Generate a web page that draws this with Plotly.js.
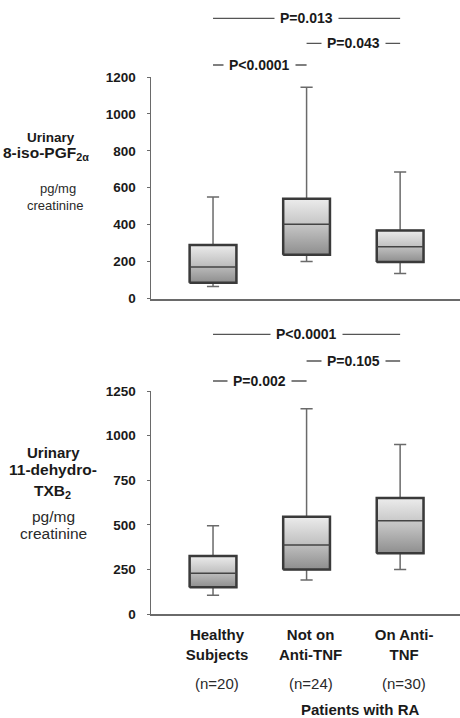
<!DOCTYPE html>
<html>
<head>
<meta charset="utf-8">
<script src="https://cdn.plot.ly/plotly-3.0.1.min.js"></script>
<style>
html,body{margin:0;padding:0;background:#fff;}
#chart{width:460px;height:718px;}
</style>
</head>
<body>
<div id="chart"></div>
<script>
// ---- data ----
const categories = ['Healthy<br>Subjects', 'Not on<br>Anti-TNF', 'On Anti-<br>TNF'];
const nLabels = ['(n=20)', '(n=24)', '(n=30)'];
const groupLabel = 'Patients with RA';

// Urinary 8-iso-PGF2α (pg/mg creatinine)
const isoLower = [65, 200, 135];
const isoQ1    = [86, 237, 198];
const isoMed   = [170, 402, 281];
const isoQ3    = [290, 541, 369];
const isoUpper = [550, 1145, 685];
const isoTicks = [0, 200, 400, 600, 800, 1000, 1200];

// Urinary 11-dehydro-TXB2 (pg/mg creatinine)
const txbLower = [105, 190, 250];
const txbQ1    = [150, 250, 340];
const txbMed   = [228, 387, 523];
const txbQ3    = [325, 545, 650];
const txbUpper = [495, 1150, 950];
const txbTicks = [0, 250, 500, 750, 1000, 1250];

// comparisons
const isoPText = ['P<0.0001', 'P=0.043', 'P=0.013'];
const isoPFrom = [0, 1, 0];
const isoPTo   = [1, 2, 2];
const txbPText = ['P=0.002', 'P=0.105', 'P<0.0001'];
const txbPFrom = [0, 1, 0];
const txbPTo   = [1, 2, 2];

// ---- styling ----
const FONT = 'Liberation Sans, Arial, sans-serif';
const BOX_W = 0.5;
const xs = categories.map((c, i) => i);

function fillTraces(q1, q3, xa, ya) {
  return xs.map(i => ({
    type: 'scatter', mode: 'lines', xaxis: xa, yaxis: ya,
    x: [i - BOX_W / 2, i + BOX_W / 2, i + BOX_W / 2, i - BOX_W / 2, i - BOX_W / 2],
    y: [q1[i], q1[i], q3[i], q3[i], q1[i]],
    fill: 'toself',
    fillgradient: {type: 'vertical', colorscale: [[0, '#8e8e8e'], [0.5, '#c2c2c2'], [1, '#ececec']]},
    line: {color: '#3a3a3a', width: 2.5},
    hoverinfo: 'skip', showlegend: false
  }));
}
function medianTraces(med, xa, ya) {
  return xs.map(i => ({
    type: 'scatter', mode: 'lines', xaxis: xa, yaxis: ya,
    x: [i - BOX_W / 2, i + BOX_W / 2], y: [med[i], med[i]],
    line: {color: '#444444', width: 1.5},
    hoverinfo: 'skip', showlegend: false
  }));
}
function boxTrace(lo, q1, med, q3, hi, xa, ya) {
  return {
    type: 'box', xaxis: xa, yaxis: ya,
    x: xs, lowerfence: lo, q1: q1, median: med, q3: q3, upperfence: hi,
    width: BOX_W, whiskerwidth: 0.26,
    fillcolor: 'rgba(0,0,0,0)',
    line: {color: '#6a6a6a', width: 1.5},
    boxpoints: false, showlegend: false, hoverinfo: 'skip'
  };
}

const data = [].concat(
  [boxTrace(isoLower, isoQ1, isoMed, isoQ3, isoUpper, 'x', 'y')],
  fillTraces(isoQ1, isoQ3, 'x', 'y'),
  medianTraces(isoMed, 'x', 'y'),
  [boxTrace(txbLower, txbQ1, txbMed, txbQ3, txbUpper, 'x2', 'y2')],
  fillTraces(txbQ1, txbQ3, 'x2', 'y2'),
  medianTraces(txbMed, 'x2', 'y2')
);

const H = 718, W = 460;
const py = p => 1 - p / H;   // pixel row -> paper y
const px = p => p / W;       // pixel col -> paper x

const xRange = [-0.663, 2.64];
const xDomain = [px(151), 1];

const axisY = (ticks, domain) => ({
  domain: domain, range: [0, ticks[ticks.length - 1]],
  tickvals: ticks, ticktext: ticks.map(String),
  showline: true, linecolor: '#6a6a6a', linewidth: 1.5,
  ticks: 'outside', ticklen: 3, tickcolor: '#6a6a6a', tickwidth: 1,
  showgrid: false, zeroline: false, fixedrange: true,
  ticklabelstandoff: 8,
  tickfont: {family: FONT, size: 13.5, color: '#1a1a1a', weight: 'bold'}
});

const layout = {
  width: W, height: H,
  margin: {l: 0, r: 0, t: 0, b: 0},
  paper_bgcolor: '#ffffff', plot_bgcolor: '#ffffff',
  showlegend: false,
  xaxis: {domain: xDomain, range: xRange, anchor: 'y', showline: true, linecolor: '#6a6a6a', linewidth: 2,
          showticklabels: false, ticks: '', showgrid: false, zeroline: false, fixedrange: true},
  yaxis: axisY(isoTicks, [py(298.5), py(77)]),
  xaxis2: {domain: xDomain, range: xRange, anchor: 'y2', showline: true, linecolor: '#6a6a6a', linewidth: 2,
           tickvals: xs, ticktext: categories, ticks: '', ticklabelstandoff: 6, ticklabelshift: 4,
           tickfont: {family: FONT, size: 15, color: '#1a1a1a', weight: 'bold'},
           showgrid: false, zeroline: false, fixedrange: true},
  yaxis2: axisY(txbTicks, [py(614), py(391)]),
  shapes: [],
  annotations: []
};

// comparison brackets
function addBrackets(texts, from, to, ys, xref) {
  texts.forEach((t, k) => {
    layout.shapes.push({type: 'line', xref: xref, yref: 'paper',
      x0: from[k], x1: to[k], y0: py(ys[k]), y1: py(ys[k]),
      line: {color: '#555', width: 1.3}});
    layout.annotations.push({xref: xref, yref: 'paper', x: (from[k] + to[k]) / 2, y: py(ys[k]),
      text: t, showarrow: false, xanchor: 'center', yanchor: 'middle',
      bgcolor: '#ffffff', borderpad: 5,
      font: {family: FONT, size: 14, color: '#1a1a1a', weight: 'bold'}});
  });
}
addBrackets(isoPText, isoPFrom, isoPTo, [65, 43.3, 18.3], 'x');
addBrackets(txbPText, txbPFrom, txbPTo, [381, 361, 334.3], 'x2');

// y titles
function label(text, x, y, size, bold) {
  layout.annotations.push({xref: 'paper', yref: 'paper', x: px(x), y: py(y), text: text,
    showarrow: false, xanchor: 'center', yanchor: 'middle',
    font: {family: FONT, size: size, color: bold ? '#1a1a1a' : '#2a2a2a', weight: bold ? 'bold' : 'normal'}});
}
label('Urinary', 51, 137, 13.5, true);
label('8-iso-PGF<sub>2α</sub>', 46, 153, 15.5, true);
label('pg/mg', 58, 188, 13, false);
label('creatinine', 55, 205.7, 13, false);

label('Urinary', 53, 452.5, 15, true);
label('11-dehydro-', 53, 469, 15.5, true);
label('TXB<sub>2</sub>', 52, 491, 15.5, true);
label('pg/mg', 53, 516.7, 15.5, false);
label('creatinine', 53, 533.3, 15.5, false);

// n labels
nLabels.forEach((t, i) => {
  layout.annotations.push({xref: 'x2', yref: 'paper', x: xs[i], y: py(683.3), text: t,
    showarrow: false, xanchor: 'center', yanchor: 'middle', xshift: 4,
    font: {family: FONT, size: 15, color: '#2a2a2a'}});
});
label(groupLabel, 360, 709, 15, true);

Plotly.newPlot('chart', data, layout, {displayModeBar: false, staticPlot: true});
</script>
</body>
</html>
